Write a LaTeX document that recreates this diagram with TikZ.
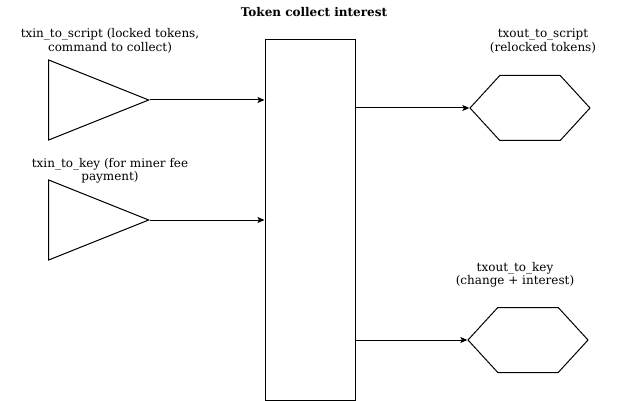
\documentclass[tikz,border=0pt]{standalone}
\usepackage{fontspec}
\setmainfont{DejaVu Serif}
\usetikzlibrary{shapes.geometric,shapes.symbols,arrows.meta}
\tikzset{
  intri/.style={draw,isosceles triangle,isosceles triangle stretches,shape border rotate=0,
    minimum width=80pt,minimum height=100pt,inner sep=0pt},
  outhex/.style={draw,signal,signal to=west and east,signal pointer angle=95,
    minimum width=120pt,minimum height=65pt,inner sep=0pt},
  lbl/.style={align=center,font=\fontsize{12}{13.5}\selectfont},
}
\begin{document}
\begin{tikzpicture}[x=1pt,y=-1pt,line width=1pt,>={Stealth[length=7pt,width=6pt,inset=1.5pt]}]
  \path[use as bounding box] (0,0) rectangle (621,401);
  \node[font=\bfseries\fontsize{12}{13.5}\selectfont] at (314,12) (title) {Token collect interest};
  \node[draw,minimum width=90pt,minimum height=360pt,inner sep=0pt] at (310,220) (tx) {};
  \node[intri,anchor=apex] at (150,100) (inscript) {};
  \node[intri,anchor=apex] at (150,220) (inkey) {};
  \node[outhex] at (530,108) (outscript) {};
  \node[outhex] at (528,340) (outkey) {};
  \node[lbl] at (110,41) (inscriptlbl) {txin\_to\_script (locked tokens,\\command to collect)};
  \node[lbl] at (110,171) (inkeylbl) {txin\_to\_key (for miner fee\\payment)};
  \node[lbl] at (543,41) (outscriptlbl) {txout\_to\_script\\(relocked tokens)};
  \node[lbl] at (515,275) (outkeylbl) {txout\_to\_key\\(change + interest)};
  \path[draw,->] (inscript.apex) -- (inscript.apex -| tx.west);
  \path[draw,->] (inkey.apex) -- (inkey.apex -| tx.west);
  \path[draw,->] (tx.east |- outscript.west) -- (outscript.west);
  \path[draw,->] (tx.east |- outkey.west) -- (outkey.west);
\end{tikzpicture}
\end{document}
